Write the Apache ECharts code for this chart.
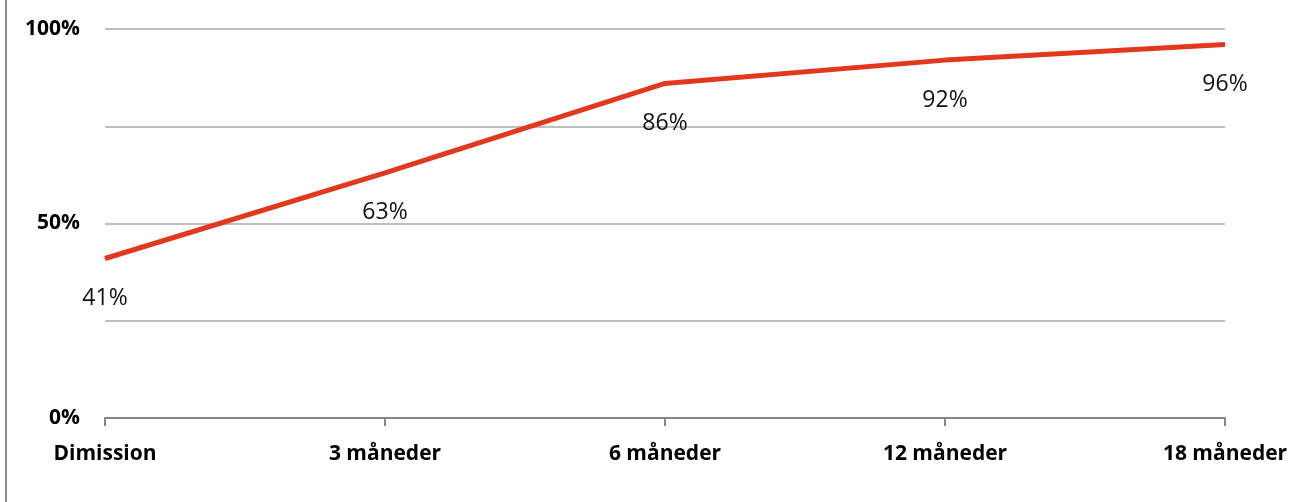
<!DOCTYPE html>
<html>
<head>
<meta charset="utf-8">
<script src="https://cdn.jsdelivr.net/npm/echarts@6/dist/echarts.min.js"></script>
<style>
	html,body{margin:0;padding:0;background:#fff;}
	#frame{position:absolute;left:5px;top:0;width:1289px;height:502px;border-left:2px solid #8c8c8c;}
	#main{position:absolute;left:0;top:0;width:1294px;height:502px;}
</style>
</head>
<body>
<div id="frame"></div>
<div id="main"></div>
<script>
// kategorier og andel i job (%)
var kategorier = ['Dimission', '3 måneder', '6 måneder', '12 måneder', '18 måneder'];
var andel = [41, 63, 86, 92, 96];
var yTicks = [0, 50, 100];

var chart = echarts.init(document.getElementById('main'));
chart.setOption({
	animation:false,
	textStyle:{fontFamily:'Open Sans'},
	grid:{left:105, right:69, top:29, bottom:84},
	xAxis:{
		type:'category',
		data:kategorier,
		boundaryGap:false,
		axisLine:{lineStyle:{color:'#868686', width:2}},
		axisTick:{show:true, length:8, lineStyle:{color:'#868686', width:2}},
		axisLabel:{
			margin:26,
			color:'#000',
			fontWeight:'bold',
			fontSize:21,
			fontFamily:'Open Sans'
		},
	},
	yAxis:{
		type:'value',
		min:0,
		max:100,
		interval:25,
		axisLine:{show:false},
		axisTick:{show:false},
		splitLine:{lineStyle:{color:'#bfbfbf', width:2}},
		axisLabel:{
			margin:25,
			color:'#000',
			fontWeight:'bold',
			fontSize:21,
			fontFamily:'Open Sans',
			padding:[4,0,0,0],
			formatter:function(v){
				return yTicks.indexOf(v) >= 0 ? v + '%' : '';
			}
		},
	},
	series:[{
		type:'line',
		data:andel,
		symbol:'circle',
		symbolSize:1,
		showSymbol:true,
		itemStyle:{color:'#e2391e'},
		lineStyle:{color:'#e2391e', width:5},
		label:{
			show:true,
			position:'bottom',
			distance:28,
			color:'#111',
			fontSize:23,
			fontFamily:'Open Sans',
			formatter:'{c}%'
		},
	}]
});
</script>
</body>
</html>
